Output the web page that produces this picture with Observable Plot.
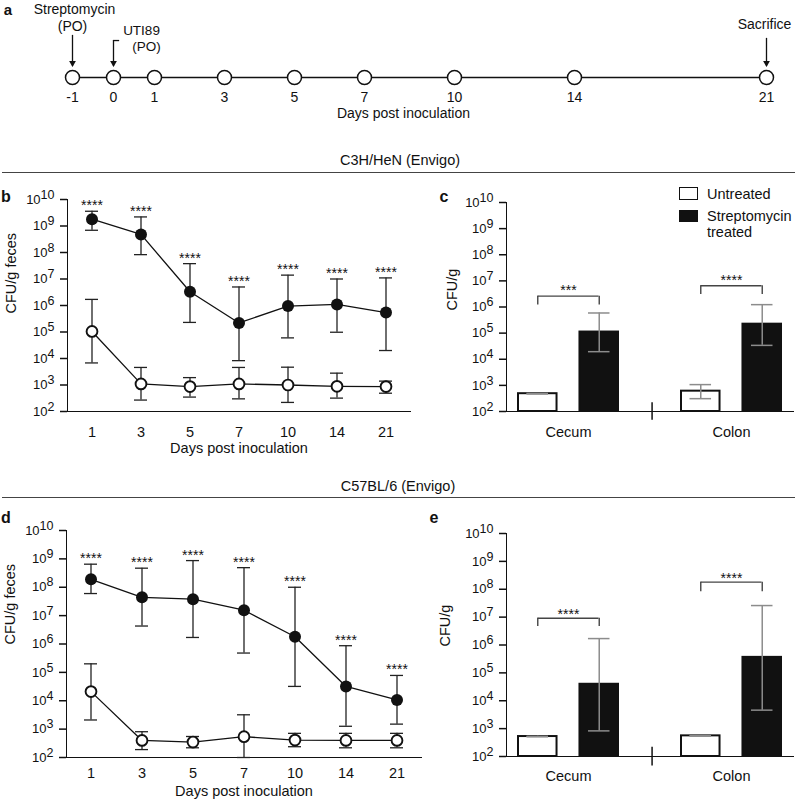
<!DOCTYPE html>
<html>
<head>
<meta charset="utf-8">
<script src="https://cdn.jsdelivr.net/npm/d3@7"></script>
<script src="https://cdn.jsdelivr.net/npm/@observablehq/plot@0.6"></script>
<style>
html,body{margin:0;padding:0;background:#fff;}
#fig{position:relative;width:798px;height:803px;overflow:hidden;font-family:"Liberation Sans",Arial,Helvetica,sans-serif;color:#111;background:#fff;}
#fig svg{position:absolute;overflow:visible;background:transparent !important;max-width:none;}
.lbl{position:absolute;white-space:nowrap;line-height:1;transform:translate(-50%,-50%);}
.lft{position:absolute;white-space:nowrap;line-height:1;transform:translate(0,-50%);}
.hline{position:absolute;height:0;border-top:1.5px solid #444;}
.sw{position:absolute;box-sizing:border-box;}
#fig svg g[aria-label$="axis line"] line,#fig svg g[aria-label$="axis line"] path,#fig svg .domain{stroke-width:1.6px;}
#fig svg g[aria-label$="axis tick"] path,#fig svg g[aria-label$="axis tick"] line,#fig svg .tick line{stroke-width:1.5px;}
</style>
</head>
<body>
<div id="fig"></div>
<script>
// ---------- data ----------
const timelineDays = [-1, 0, 1, 3, 5, 7, 10, 14, 21];
const eventDays = [-1, 0, 21];
const eventArrowTop = [1, 0.88, 0.93];
const timelineTitle = "Days post inoculation";

const days = [1, 3, 5, 7, 10, 14, 21];
const yTicks = [1e2, 1e3, 1e4, 1e5, 1e6, 1e7, 1e8, 1e9, 1e10];
const xTitle = "Days post inoculation";
const fecesTitle = "CFU/g feces";
const organTitle = "CFU/g";

// panel b : C3H/HeN feces
const bStrepMean = [1.8e9, 4.8e8, 3.3e6, 2.2e5, 9.5e5, 1.1e6, 5.4e5];
const bStrepLow  = [6.9e8, 8.3e7, 2.3e5, 8.3e3, 6.0e4, 9.8e4, 2.0e4];
const bStrepHigh = [3.6e9, 2.2e9, 3.8e7, 5.0e6, 1.4e7, 1.0e7, 1.1e7];
const bUntrMean  = [1.05e5, 1.1e3, 8.7e2, 1.1e3, 1.0e3, 8.9e2, 8.7e2];
const bUntrLow   = [6.8e3, 2.7e2, 3.5e2, 3.0e2, 2.2e2, 3.2e2, 4.9e2];
const bUntrHigh  = [1.7e6, 4.6e3, 1.9e3, 4.6e3, 4.7e3, 2.8e3, 1.4e3];
const bStars = ["****", "****", "****", "****", "****", "****", "****"];

// panel d : C57BL/6 feces
const dStrepMean = [1.9e8, 4.4e7, 3.8e7, 1.55e7, 1.8e6, 3.2e4, 1.07e4];
const dStrepLow  = [6.0e7, 4.3e6, 1.7e6, 4.8e5, 3.2e4, 1.26e3, 1.5e3];
const dStrepHigh = [6.5e8, 4.7e8, 8.7e8, 4.9e8, 1.0e8, 8.7e5, 7.8e4];
const dUntrMean  = [2.1e4, 4.0e2, 3.5e2, 5.4e2, 4.1e2, 4.0e2, 4.0e2];
const dUntrLow   = [2.1e3, 1.9e2, 2.2e2, 1.0e2, 2.4e2, 2.2e2, 2.2e2];
const dUntrHigh  = [2.0e5, 8.1e2, 5.5e2, 3.2e3, 7.1e2, 7.1e2, 7.1e2];
const dStars = ["****", "****", "****", "****", "****", "****", "****"];

// panels c / e : organs at day 21
const organs = ["Cecum", "Colon"];
const legendLabels = ["Untreated", "Streptomycin\ntreated"];
const cUntrMean  = [4.8e2, 6.0e2];
const cUntrLow   = [4.7e2, 3.1e2];
const cUntrHigh  = [4.9e2, 1.07e3];
const cStrepMean = [1.1e5, 2.2e5];
const cStrepLow  = [1.95e4, 3.4e4];
const cStrepHigh = [5.9e5, 1.23e6];
const cBracketTop = [2.6e6, 6.5e6];
const cBracketEnd = [1.2e6, 3.0e6];
const cStars = ["***", "****"];

const eUntrMean  = [5.2e2, 5.5e2];
const eUntrLow   = [5.1e2, 5.4e2];
const eUntrHigh  = [5.3e2, 5.6e2];
const eStrepMean = [3.9e4, 3.6e5];
const eStrepLow  = [8.3e2, 4.6e3];
const eStrepHigh = [1.7e6, 2.6e7];
const eBracketTop = [9.1e6, 1.8e8];
const eBracketEnd = [4.6e6, 8.1e7];
const eStars = ["****", "****"];

const axisBreak = [46, 215];

// ---------- helpers ----------
const FONT = '"Liberation Sans", Arial, Helvetica, sans-serif';
const fig = document.getElementById("fig");
const NS = "http://www.w3.org/2000/svg";

function put(el, left, top) {
  el.style.left = left + "px"; el.style.top = top + "px";
  fig.appendChild(el);
  return el;
}
function label(text, x, y, size, bold, cls = "lbl") {
  const d = document.createElement("div");
  d.className = cls; d.textContent = text;
  d.style.fontSize = size + "px";
  if (bold) d.style.fontWeight = "bold";
  return put(d, x, y);
}
function supFmt(v) { return "10^" + Math.round(Math.log10(v)); }
function superscript(svg) {
  svg.querySelectorAll("text").forEach(t => {
    const m = /^10\^(\d+)$/.exec(t.textContent.trim());
    if (!m) return;
    t.textContent = "";
    t.setAttribute("font-size", "13");
    const a = document.createElementNS(NS, "tspan"); a.textContent = "10";
    const b = document.createElementNS(NS, "tspan"); b.textContent = m[1];
    b.setAttribute("dy", "-5"); b.setAttribute("font-size", "12.5");
    t.appendChild(a); t.appendChild(b);
  });
}
function series(x, mean, lo, hi) {
  return x.map((d, i) => ({day: d, mean: mean[i], lo: lo[i], hi: hi[i]}));
}
function mount(svg, left, top) {
  svg.style.left = left + "px"; svg.style.top = top + "px";
  superscript(svg);
  fig.appendChild(svg);
}

// ---------- panel a: timeline ----------
const events = eventDays.map((d, i) => ({day: d, top: eventArrowTop[i]}));
const tl = Plot.plot({
  width: 798, height: 125, margin: 0,
  style: {fontFamily: FONT, fontSize: "14px", color: "#111", background: "transparent", overflow: "visible"},
  x: {type: "linear", domain: [-1, 1, 7, 14, 21], range: [72, 154, 364, 574, 766], axis: null},
  y: {domain: [0, 1], range: [77, 35], axis: null},
  marks: [
    Plot.ruleY([0], {x1: -1, x2: 21, stroke: "#111", strokeWidth: 1.5}),
    Plot.arrow(events, {x1: "day", x2: "day", y1: "top", y2: () => 0, insetEnd: 12, headLength: 0, stroke: "#111", strokeWidth: 1.3}),
    Plot.dot(events, {x: "day", y: () => 0, symbol: "triangle", r: 2.5, rotate: 180, dy: -14.5, fill: "#111", stroke: "none"}),
    Plot.ruleY([0.88], {x1: 0, x2: 0.15, stroke: "#111", strokeWidth: 1.3}),
    Plot.dot(timelineDays, {x: d => d, y: () => 0, r: 7, fill: "white", stroke: "#111", strokeWidth: 1.5}),
    Plot.text(timelineDays, {x: d => d, y: () => 0, text: d => String(d), dy: 20}),
    Plot.text([timelineTitle], {y: () => 0, text: d => d, dy: 36, dx: 4}),
    Plot.text(["Streptomycin"], {x: () => -1, y: () => 1, text: d => d, dx: 2, dy: -26}),
    Plot.text(["(PO)"], {x: () => -1, y: () => 1, text: d => d, dy: -9}),
    Plot.text(["UTI89"], {x: () => 0, y: () => 0.88, text: d => d, dx: 28, dy: -10, fontSize: 13.5}),
    Plot.text(["(PO)"], {x: () => 0, y: () => 0.88, text: d => d, dx: 33, dy: 6, fontSize: 13.5}),
    Plot.text(["Sacrifice"], {x: () => 21, y: () => 0.93, text: d => d, dx: -2, dy: -14})
  ]
});
mount(tl, 0, 0);

// ---------- panels b / d: time course ----------
function timeCourse(o) {
  const strep = series(days, o.sMean, o.sLo, o.sHi);
  const untr = series(days, o.uMean, o.uLo, o.uHi);
  const all = strep.concat(untr);
  const svg = Plot.plot({
    width: o.width, height: o.height,
    marginLeft: o.mL, marginRight: o.mR, marginTop: o.mT, marginBottom: o.mB,
    style: {fontFamily: FONT, fontSize: "14.5px", color: "#111", background: "transparent", overflow: "visible"},
    x: {type: "band", domain: days, paddingInner: o.pi, paddingOuter: o.po, tickSize: 0, tickPadding: o.tickPad, line: true, label: null},
    y: {type: "log", domain: [1e2, 1e10], ticks: yTicks, tickFormat: supFmt, tickSize: 7, tickPadding: 6, line: true, label: null},
    marks: [
      Plot.ruleX(all, {x: "day", y1: "lo", y2: "hi", stroke: "#222", strokeWidth: 1.3}),
      Plot.tickY(all, {x: "day", y: "hi", stroke: "#222", strokeWidth: 1.3}),
      Plot.tickY(all, {x: "day", y: "lo", stroke: "#222", strokeWidth: 1.3}),
      Plot.line(strep, {x: "day", y: "mean", stroke: "#111", strokeWidth: 1.3}),
      Plot.line(untr, {x: "day", y: "mean", stroke: "#111", strokeWidth: 1.3}),
      Plot.dot(strep, {x: "day", y: "mean", r: 6, fill: "#111", stroke: "none"}),
      Plot.dot(untr, {x: "day", y: "mean", r: 5.4, fill: "white", stroke: "#111", strokeWidth: 1.9}),
      Plot.text(strep, {x: "day", y: "hi", text: (d, i) => o.stars[i], dy: -5.5, fontSize: 14}),
      Plot.text([xTitle], {frameAnchor: "bottom", text: d => d, dy: o.titleDy, fontSize: 14.5}),
      Plot.text([fecesTitle], {frameAnchor: "left", text: d => d, rotate: -90, dx: o.yDx, dy: o.yDy, fontSize: 14.5})
    ]
  });
  mount(svg, o.left, o.top);
}

timeCourse({sMean: bStrepMean, sLo: bStrepLow, sHi: bStrepHigh, uMean: bUntrMean, uLo: bUntrLow, uHi: bUntrHigh,
  stars: bStars, left: 0, top: 180, width: 430, height: 290, mL: 67, mR: 20, mT: 19, mB: 59,
  pi: 0.736, po: 0.33, tickPad: 15, titleDy: 41, yDx: -56, yDy: 8});
timeCourse({sMean: dStrepMean, sLo: dStrepLow, sHi: dStrepHigh, uMean: dUntrMean, uLo: dUntrLow, uHi: dUntrHigh,
  stars: dStars, left: 0, top: 510, width: 440, height: 293, mL: 66, mR: 19, mT: 20, mB: 46,
  pi: 0.744, po: 0.35, tickPad: 10, titleDy: 38, yDx: -56, yDy: 0.5});

// ---------- panels c / e: organs ----------
function organPlot(o) {
  const W = o.width - o.mL - o.mR;
  const pi = 0.372, po = 0.0655;
  const step = W / (organs.length - pi + 2 * po);
  const BW = step * (1 - pi);
  const off = BW / 2 - 20.5;
  const untr = organs.map((g, i) => ({organ: g, mean: o.uMean[i], lo: o.uLo[i], hi: o.uHi[i]}));
  const strep = organs.map((g, i) => ({organ: g, mean: o.sMean[i], lo: o.sLo[i], hi: o.sHi[i]}));
  const br = organs.map((g, i) => ({organ: g, top: o.bTop[i], end: o.bEnd[i], star: o.stars[i]}));
  const errStyle = {stroke: "#8c8c8c", strokeWidth: 1.5};
  const svg = Plot.plot({
    width: o.width, height: o.height,
    marginLeft: o.mL, marginRight: o.mR, marginTop: o.mT, marginBottom: o.mB,
    style: {fontFamily: FONT, fontSize: "14.5px", color: "#111", background: "transparent", overflow: "visible"},
    x: {type: "band", domain: organs, paddingInner: pi, paddingOuter: po, tickSize: 0, tickPadding: o.tickPad, line: true, label: null},
    y: {type: "log", domain: [1e2, 1e10], ticks: yTicks, tickFormat: supFmt, tickSize: 7, tickPadding: 6, line: true, label: null},
    marks: [
      Plot.barY(untr, {x: "organ", y1: () => 1e2, y2: "mean", fill: "white", stroke: "#111", strokeWidth: 2, insetLeft: 1, insetRight: BW - 40}),
      Plot.barY(strep, {x: "organ", y1: () => 1e2, y2: "mean", fill: "#111", stroke: "#111", strokeWidth: 2, insetLeft: BW - 40, insetRight: 1}),
      Plot.ruleX(untr, {x: "organ", y1: "lo", y2: "hi", dx: -off, ...errStyle}),
      Plot.tickY(untr, {x: "organ", y: "hi", insetLeft: 9.5, insetRight: BW - 31.5, ...errStyle}),
      Plot.tickY(untr, {x: "organ", y: "lo", insetLeft: 9.5, insetRight: BW - 31.5, ...errStyle}),
      Plot.ruleX(strep, {x: "organ", y1: "lo", y2: "hi", dx: off, ...errStyle}),
      Plot.tickY(strep, {x: "organ", y: "hi", insetLeft: BW - 31.5, insetRight: 9.5, ...errStyle}),
      Plot.tickY(strep, {x: "organ", y: "lo", insetLeft: BW - 31.5, insetRight: 9.5, ...errStyle}),
      Plot.tickY(br, {x: "organ", y: "top", insetLeft: 20.5, insetRight: 20.5, stroke: "#444", strokeWidth: 1.4}),
      Plot.ruleX(br, {x: "organ", y1: "top", y2: "end", dx: -off, stroke: "#444", strokeWidth: 1.4}),
      Plot.ruleX(br, {x: "organ", y1: "top", y2: "end", dx: off, stroke: "#444", strokeWidth: 1.4}),
      Plot.text(br, {x: "organ", y: "top", text: "star", dy: o.starDy, fontSize: 14}),
      Plot.ruleX([organs[0]], {x: d => d, y1: () => axisBreak[0], y2: () => axisBreak[1], dx: step / 2 + 2, stroke: "#111", strokeWidth: 1.5}),
      Plot.text([organTitle], {frameAnchor: "left", text: d => d, rotate: -90, dx: o.yDx, dy: o.yDy, fontSize: 14.5})
    ]
  });
  mount(svg, o.left, o.top);
}

organPlot({uMean: cUntrMean, uLo: cUntrLow, uHi: cUntrHigh, sMean: cStrepMean, sLo: cStrepLow, sHi: cStrepHigh,
  bTop: cBracketTop, bEnd: cBracketEnd, stars: cStars, starDy: -5.5,
  left: 430, top: 180, width: 368, height: 290, mL: 76, mR: 5, mT: 22, mB: 59, tickPad: 15, yDx: -54, yDy: 3.5});
organPlot({uMean: eUntrMean, uLo: eUntrLow, uHi: eUntrHigh, sMean: eStrepMean, sLo: eStrepLow, sHi: eStrepHigh,
  bTop: eBracketTop, bEnd: eBracketEnd, stars: eStars, starDy: -4,
  left: 430, top: 510, width: 368, height: 293, mL: 76, mR: 5, mT: 23, mB: 47, tickPad: 14, yDx: -61, yDy: 1.5});

// ---------- legend (panel c) ----------
const sw1 = document.createElement("div"); sw1.className = "sw";
Object.assign(sw1.style, {width: "19px", height: "13px", border: "1.5px solid #111", background: "#fff"});
put(sw1, 679, 187);
const sw2 = document.createElement("div"); sw2.className = "sw";
Object.assign(sw2.style, {width: "19px", height: "12px", background: "#111"});
put(sw2, 679, 210);
label(legendLabels[0], 707, 194, 14.5, false, "lft");
const parts = legendLabels[1].split("\n");
label(parts[0], 707, 216, 14.5, false, "lft");
label(parts[1], 707, 232, 14.5, false, "lft");

// ---------- section headers and panel letters ----------
label("C3H/HeN (Envigo)", 400, 160, 14.5);
const h1 = document.createElement("div"); h1.className = "hline"; h1.style.width = "793px"; put(h1, 2, 172);
label("C57BL/6 (Envigo)", 398, 486, 14.5);
const h2 = document.createElement("div"); h2.className = "hline"; h2.style.width = "793px"; put(h2, 2, 497);

label("a", 8, 9, 15, true);
label("b", 6, 197, 16, true);
label("c", 444, 197, 16, true);
label("d", 6, 518, 16, true);
label("e", 434, 518, 16, true);
</script>
</body>
</html>
